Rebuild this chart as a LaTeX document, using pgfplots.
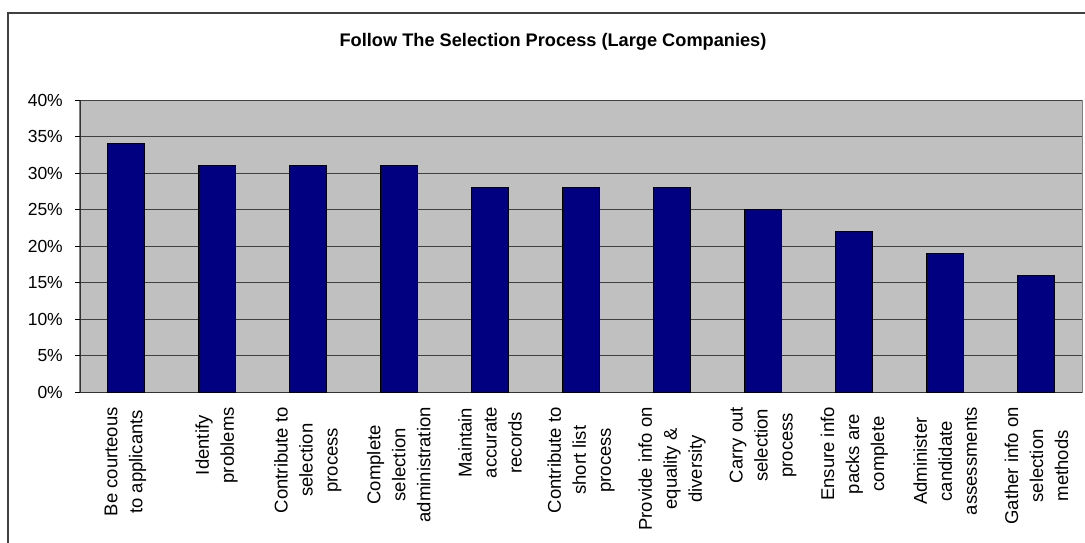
\documentclass[border=0pt]{standalone}
\usepackage{fontspec}
\setmainfont{Liberation Sans}
\usepackage{pgfplots}
\pgfplotsset{compat=1.18}
\definecolor{plotbg}{HTML}{C0C0C0}
\definecolor{barnavy}{HTML}{000080}
\begin{document}
\begin{tikzpicture}[x=1pt,y=1pt]
\path[use as bounding box] (0,0) rectangle (1085,542);
\draw[black!75, line width=1.2pt] (8,-2) -- (8,529) -- (1087,529);
\node[font=\fontsize{18.2}{22}\selectfont\bfseries] at (553,500) {Follow The Selection Process (Large Companies)};
\begin{axis}[
  at={(80pt,150pt)}, anchor=south west,
  scale only axis, width=1002pt, height=292pt,
  xmin=-0.5, xmax=10.5, ymin=0, ymax=40,
  axis background/.style={fill=plotbg, draw=black!50, line width=1pt},
  axis line style={draw=black!80, line width=0.9pt},
  axis x line*=bottom, axis y line*=left,
  ytick={0,5,...,40},
  yticklabel={\pgfmathprintnumber{\tick}\%},
  /pgf/number format/assume math mode=true,
  ymajorgrids, grid style={draw=black!75, line width=0.9pt},
  tick align=outside,
  major tick style={draw=black, line width=0.9pt},
  major tick length=5pt,
  xtick={0,...,10},
  x tick style={draw=none},
  minor xtick={-0.5,0.5,...,10.5},
  minor tick length=6pt,
  minor tick style={draw=black, line width=0.9pt},
  xticklabels={
    {Be courteous\\to applicants},
    {Identify\\problems},
    {Contribute to\\selection\\process},
    {Complete\\selection\\administration},
    {Maintain\\accurate\\records},
    {Contribute to\\short list\\process},
    {Provide info on\\equality \&\\diversity},
    {Carry out\\selection\\process},
    {Ensure info\\packs are\\complete},
    {Administer\\candidate\\assessments},
    {Gather info on\\selection\\methods}},
  xticklabel style={rotate=90, anchor=east, align=center, inner sep=0pt,
    font=\fontsize{18.5}{25}\selectfont, xshift=-10pt},
  yticklabel style={anchor=east, inner sep=0pt, xshift=-12pt,
    font=\fontsize{17.5}{21}\selectfont},
]
\addplot[ybar, bar width=37pt, fill=barnavy, draw=black, line width=1pt]
  coordinates {(0,34) (1,31) (2,31) (3,31) (4,28) (5,28) (6,28) (7,25) (8,22) (9,19) (10,16)};
\end{axis}
\end{tikzpicture}
\end{document}
